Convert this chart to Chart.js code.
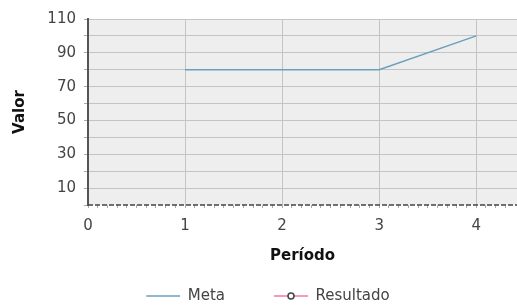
<!DOCTYPE html>
<html>
<head>
<meta charset="utf-8">
<script src="https://cdn.jsdelivr.net/npm/chart.js@4/dist/chart.umd.min.js"></script>
<style>
  html, body { margin: 0; padding: 0; background: #fff; }
  #wrap { width: 517px; height: 307px; }
</style>
</head>
<body>
<div id="wrap"><canvas id="chart" width="517" height="307"></canvas></div>
<script>
// data
const periodos = [1, 2, 3, 4];
const meta = [80, 80, 80, 100];
const resultado = [null, null, null, null]; // nothing plotted yet
const seriesNames = ['Meta', 'Resultado'];
const yLabelEvery = [10, 30, 50, 70, 90, 110];

const metaColor = '#6b9fbf';
const resColor = '#f07aa0';
const glyphMargin = 19; // blank space left of each legend glyph
const legendPad = 30;

// legend glyphs: a plain line, and a line with an open circle
function legendGlyph(color, withCircle) {
    const c = document.createElement('canvas');
    c.width = 34 + glyphMargin;
    c.height = 12;
    const g = c.getContext('2d');
    g.strokeStyle = color;
    g.lineWidth = 1.5;
    g.beginPath();
    g.moveTo(glyphMargin, 6);
    g.lineTo(glyphMargin + 34, 6);
    g.stroke();
    if (withCircle) {
        g.fillStyle = '#fff';
        g.strokeStyle = '#444';
        g.lineWidth = 1.5;
        g.beginPath();
        g.arc(glyphMargin + 17, 6, 3, 0, Math.PI * 2);
        g.fill();
        g.stroke();
    }
    return c;
}

const plotBg = {
    id: 'plotBg',
    beforeDraw(chart) {
        const a = chart.chartArea;
        chart.ctx.save();
        chart.ctx.fillStyle = '#eeeeee';
        chart.ctx.fillRect(a.left, a.top, a.right - a.left, a.bottom - a.top);
        chart.ctx.restore();
    }
};

// dashed baseline at y = 0
const zeroLine = {
    id: 'zeroLine',
    afterDatasetsDraw(chart) {
        const a = chart.chartArea;
        const y = chart.scales.y.getPixelForValue(0);
        const g = chart.ctx;
        g.save();
        g.strokeStyle = '#444';
        g.lineWidth = 1.5;
        g.setLineDash([5, 2]);
        g.beginPath();
        g.moveTo(a.left, y);
        g.lineTo(a.right, y);
        g.stroke();
        g.restore();
    }
};

function isWhole(v) {
    return Math.abs(v - Math.round(v)) < 1e-6;
}

const ctx = document.getElementById('chart');

new Chart(ctx, {
    type: 'line',
    data: {
        datasets: [{
            label: seriesNames[0],
            data: periodos.map((p, i) => ({x: p, y: meta[i]})),
            borderColor: metaColor,
            borderWidth: 1.5,
            pointRadius: 0,
            tension: 0,
            pointStyle: legendGlyph(metaColor, false)
        }, {
            label: seriesNames[1],
            data: periodos.map((p, i) => ({x: p, y: resultado[i]})),
            borderColor: resColor,
            borderWidth: 1.5,
            pointRadius: 3,
            pointBackgroundColor: '#fff',
            pointBorderColor: '#444',
            pointStyle: legendGlyph(resColor, true)
        }]
    },
    options: {
        responsive: false,
        animation: false,
        layout: {
            autoPadding: false, // otherwise point radius eats 5px on the right
            padding: { top: 19, right: 0, bottom: 0, left: 0 }
        },
        plugins: {
            tooltip: { enabled: false },
            legend: {
                position: 'bottom',
                maxHeight: legendPad + 18.5,
                labels: {
                    usePointStyle: true,
                    pointStyleWidth: 34 + glyphMargin,
                    color: '#444',
                    padding: legendPad,
                    font: { family: 'DejaVu Sans', size: 15 },
                    generateLabels(chart) {
                        return chart.data.datasets.map((ds, i) => ({
                            text: ds.label,
                            pointStyle: ds.pointStyle,
                            fontColor: '#444',
                            lineWidth: 0,
                            datasetIndex: i
                        }));
                    }
                }
            }
        },
        scales: {
            x: {
                type: 'linear',
                min: 0,
                max: 4.42,
                afterFit(scale) {
                    scale.height = 307 - 205 - (legendPad + 18.5);
                },
                ticks: {
                    stepSize: 0.1,
                    autoSkip: false,
                    maxRotation: 0,
                    // no tick padding (it would eat the right edge); the tall line height drops the labels instead
                    padding: 0,
                    color: '#444',
                    font: { family: 'DejaVu Sans', size: 15, lineHeight: 2.4 },
                    callback: v => isWhole(v) ? Math.round(v) : ''
                },
                grid: {
                    color: c => (c.tick && isWhole(c.tick.value) && c.tick.value > 0) ? '#c4c4c4' : 'rgba(0,0,0,0)',
                    tickColor: '#aaaaaa',
                    tickLength: 3,
                    lineWidth: 1
                },
                border: { display: false },
                title: {
                    display: true,
                    text: 'Período',
                    color: '#111',
                    padding: { top: 0, bottom: -6.5 },
                    font: { family: 'DejaVu Sans', size: 15, weight: 'bold' }
                }
            },
            y: {
                min: 0,
                max: 110,
                afterFit(scale) { scale.width = 88; },
                ticks: {
                    stepSize: 10,
                    autoSkip: false,
                    padding: 8,
                    color: '#444',
                    font: { family: 'DejaVu Sans', size: 15 },
                    callback: v => yLabelEvery.includes(v) ? v : ''
                },
                grid: {
                    color: c => (c.tick && c.tick.value > 0) ? '#c4c4c4' : 'rgba(0,0,0,0)',
                    tickColor: '#aaaaaa',
                    tickLength: 4,
                    lineWidth: 1
                },
                border: { display: true, color: '#555', width: 2 },
                title: {
                    display: true,
                    text: 'Valor',
                    color: '#111',
                    padding: { top: 11, bottom: 0 },
                    font: { family: 'DejaVu Sans', size: 15, weight: 'bold' }
                }
            }
        }
    },
    plugins: [plotBg, zeroLine]
});
</script>
</body>
</html>
